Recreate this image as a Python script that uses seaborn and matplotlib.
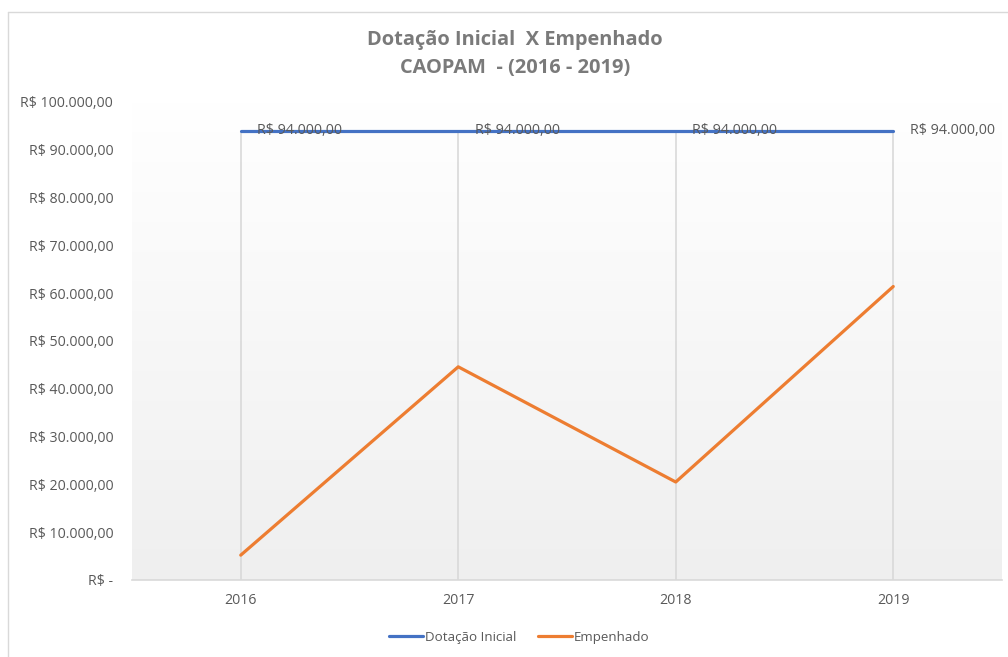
import numpy as np
import pandas as pd
import seaborn as sns
import matplotlib.pyplot as plt
from matplotlib.ticker import FuncFormatter

# Chart data
anos = ["2016", "2017", "2018", "2019"]
dotacao_inicial = [94000, 94000, 94000, 94000]
empenhado = [5200, 44600, 20500, 61400]
series_names = ["Dotação Inicial", "Empenhado"]

df = pd.DataFrame({
    "Ano": anos * 2,
    "Valor": dotacao_inicial + empenhado,
    "Serie": [series_names[0]] * len(anos) + [series_names[1]] * len(anos),
})

sns.set_theme(style="white")
plt.rcParams['font.family'] = ['Open Sans', 'DejaVu Sans']

txt_color = "#595959"
grid_color = "#d9d9d9"


def brl(v, pos=None):
    # Excel style "R$ 10.000,00" formatting
    if v == 0:
        return "R$ -"
    s = f"{v:,.2f}".replace(",", "X").replace(".", ",").replace("X", ".")
    return "R$ " + s


fig = plt.figure(figsize=(10.08, 6.57), dpi=100)
ax = fig.add_axes([132 / 1008, 1 - 580 / 657, (1002 - 132) / 1008, (580 - 102) / 657])

# plot area gradient, white on top -> light grey at bottom
grad = np.linspace(1.0, 0.0, 256).reshape(-1, 1)
ax.imshow(grad, extent=[-0.5, 3.5, 0, 100000], aspect="auto",
          cmap=sns.blend_palette(["#efefef", "#ffffff"], as_cmap=True),
          zorder=0, origin="upper")

# drop lines from the top series down to the axis
top = np.maximum(dotacao_inicial, empenhado)
ax.vlines(range(len(anos)), 0, top, color=grid_color, lw=1.2, zorder=1)

sns.lineplot(data=df, x="Ano", y="Valor", hue="Serie", sort=False,
             palette=["#4472C4", "#ED7D31"], linewidth=2.3, ax=ax, zorder=3)

# data labels on the blue series
for i, v in enumerate(dotacao_inicial):
    ax.annotate(brl(v), (i, v), xytext=(12, 0), textcoords="offset points",
                ha="left", va="center", fontsize=10.3, color=txt_color, zorder=4)

ax.set_xlim(-0.5, 3.5)
ax.set_ylim(0, 100000)
ax.set_yticks(np.arange(0, 100001, 10000))
ax.yaxis.set_major_formatter(FuncFormatter(brl))
ax.set_xlabel("")
ax.set_ylabel("")
ax.tick_params(axis="both", length=0, colors=txt_color, labelsize=10.2)
ax.tick_params(axis="x", pad=9)
ax.tick_params(axis="y", pad=13.5)
for side in ["top", "right", "left"]:
    ax.spines[side].set_visible(False)
ax.spines["bottom"].set_color(grid_color)
ax.spines["bottom"].set_linewidth(1.2)

fig.text(515 / 1008, 1 - 40 / 657, "Dotação Inicial  X Empenhado", ha="center", va="center",
         fontsize=14.4, fontweight="bold", color="#7a7a7a")
fig.text(515 / 1008, 1 - 68 / 657, "CAOPAM  - (2016 - 2019)", ha="center", va="center",
         fontsize=14.4, fontweight="bold", color="#7a7a7a")

handles, labels = ax.get_legend_handles_labels()
ax.legend(handles, labels, loc="center", bbox_to_anchor=(519 / 1008, 1 - 637 / 657),
          bbox_transform=fig.transFigure, ncol=2, frameon=False, fontsize=9.6,
          labelcolor=txt_color, handlelength=2.55, handletextpad=0.15, columnspacing=1.6)

# chart area border (left and top edges visible)
fig.add_artist(plt.Line2D([8 / 1008, 8 / 1008], [0, 1 - 12 / 657], transform=fig.transFigure,
                          color=grid_color, lw=1))
fig.add_artist(plt.Line2D([8 / 1008, 1], [1 - 12 / 657, 1 - 12 / 657], transform=fig.transFigure,
                          color=grid_color, lw=1))

fig.savefig("out.png", dpi=100)
